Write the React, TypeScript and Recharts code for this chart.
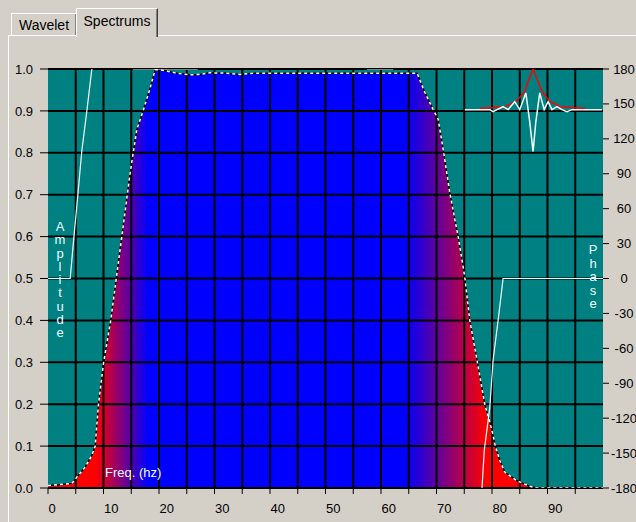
import React from 'react';
import { ComposedChart, Area, Line, XAxis, YAxis, CartesianGrid, ReferenceLine } from 'recharts';

// axis ticks
const freqTicks = [0, 5, 10, 15, 20, 25, 30, 35, 40, 45, 50, 55, 60, 65, 70, 75, 80, 85, 90, 95];
const gridFreqs = [5, 10, 15, 20, 25, 30, 35, 40, 45, 50, 55, 60, 65, 70, 75, 80, 85, 90, 95];
const ampTicks = [0, 0.1, 0.2, 0.3, 0.4, 0.5, 0.6, 0.7, 0.8, 0.9, 1.0];
const phaseTicks = [-180, -150, -120, -90, -60, -30, 0, 30, 60, 90, 120, 150, 180];

// amplitude spectrum
const ampFreq = [
  0, 2, 4.3, 5.2, 6.7, 7.9, 8.5, 9.1, 10, 11.3, 12.3, 13.3, 14.8, 16, 17.2, 18.3, 19.3,
  20.2, 21.4, 23.2, 25.6, 27.4, 29.2, 32.2, 34.6, 37, 45, 55, 66.5, 67.9, 69.4, 70.3,
  71.3, 72.4, 73.9, 75.1, 76, 77.3, 78.7, 80, 80.6, 81.4, 82.3, 84.4, 86.8, 88, 100,
];
const ampValue = [
  0.006, 0.008, 0.011, 0.026, 0.05, 0.078, 0.1, 0.2, 0.298, 0.4, 0.5, 0.6, 0.752, 0.855, 0.903, 0.95, 0.998,
  0.998, 0.995, 0.99, 0.986, 0.987, 0.991, 0.99, 0.987, 0.99, 0.99, 0.99, 0.99, 0.944, 0.903, 0.88,
  0.8, 0.704, 0.6, 0.503, 0.4, 0.305, 0.2, 0.137, 0.1, 0.066, 0.038, 0.018, 0.004, 0, 0,
];

// phase spectrum in degrees (null = not drawn)
const phaseFreq = [0, 4, 4.5, 5.4, 6.1, 7, 7.9, 8, 15.3, 27, 27.1, 57.5, 62.2, 62.3, 78.2, 78.6, 79.6, 80.2, 81.1, 81.8, 82, 100];
const phaseDeg = [0, 0, 27, 73, 110, 144, 180, null, 180, 180, null, 180, 180, null, -180, -148, -111, -70, -36, -8, 0, 0];

// wavelet inset, drawn in the amplitude frame
const waveFreq = [75.1, 79.6, 80.2, 80.9, 82, 82.9, 84.1, 85, 86.1, 86.8, 87.4, 87.9, 88.6, 89.4, 90.1, 90.8, 91.7, 92.6, 93.5, 94.4, 99.8];
const waveValue = [0.903, 0.903, 0.898, 0.903, 0.91, 0.903, 0.922, 0.903, 0.943, 0.874, 0.803, 0.874, 0.943, 0.903, 0.922, 0.903, 0.91, 0.903, 0.898, 0.903, 0.903];
const envFreq = [77.8, 82.3, 84.3, 85.9, 86.5, 87.4, 88.3, 89, 90.5, 92.4, 96.8];
const envValue = [0.906, 0.91, 0.922, 0.946, 0.97, 1.0, 0.97, 0.946, 0.922, 0.91, 0.906];

const ampData = ampFreq.map((f, i) => ({ f, amp: ampValue[i] }));
const phaseData = phaseFreq.map((f, i) => ({ f, phase: phaseDeg[i] }));
const waveData = waveFreq.map((f, i) => ({ f, wave: waveValue[i] }));
const envData = envFreq.map((f, i) => ({ f, env: envValue[i] }));

const GRAY = '#D4D0C8';
const TEAL = '#008080';
const FONT = '"Liberation Sans", Arial, sans-serif';

function FreqTick(props: any) {
  const { x, y, payload } = props;
  if (payload.value % 10 !== 0) return <g />;
  return (
    <text x={x + 0.5} y={y} dy={17} textAnchor="start" fontSize={13} fontFamily={FONT} fill="#000">
      {payload.value}
    </text>
  );
}

function PhaseTick(props: any) {
  const { x, y, payload } = props;
  return (
    <text x={x} y={y} dy={4.5} textAnchor="middle" fontSize={13} fontFamily={FONT} fill="#000">
      {payload.value}
    </text>
  );
}

function Stacked({ text, left, top, lh }: { text: string; left: number; top: number; lh: number }) {
  return (
    <div
      style={{
        position: 'absolute', left, top, width: 14, textAlign: 'center', color: '#F0FFFF',
        fontFamily: FONT, fontSize: 13, lineHeight: `${lh}px`, pointerEvents: 'none',
      }}
    >
      {text.split('').map((c, i) => (
        <div key={i}>{c}</div>
      ))}
    </div>
  );
}

export default function App() {
  return (
    <div style={{ position: 'fixed', left: 0, top: 0, width: 636, height: 522, overflow: 'hidden', background: GRAY, fontFamily: FONT }}>
      {/* tab page frame */}
      <div style={{ position: 'absolute', left: 8, top: 35, width: 700, height: 600, borderTop: '1px solid #fff', borderLeft: '1px solid #fff' }} />
      <div
        style={{
          position: 'absolute', left: 11, top: 13, width: 64, height: 21, background: GRAY,
          borderTop: '1px solid #fff', borderLeft: '1px solid #fff', borderRight: '1px solid #404040',
          boxShadow: 'inset -1px 0 0 #808080', fontSize: 14, textAlign: 'center', lineHeight: '22px',
        }}
      >
        Wavelet
      </div>
      <div
        style={{
          position: 'absolute', left: 76, top: 8, width: 80, height: 28, background: GRAY,
          borderTop: '1px solid #fff', borderLeft: '1px solid #fff', borderRight: '1px solid #404040',
          boxShadow: 'inset -1px 0 0 #808080', fontSize: 14, textAlign: 'center', lineHeight: '24px',
        }}
      >
        Spectrums
      </div>

      <div style={{ position: 'absolute', left: 0, top: 0 }}>
        <ComposedChart width={636} height={522} margin={{ top: 69, right: 0, bottom: 0, left: 8 }}>
          <defs>
            <linearGradient id="ampFill" x1="0" y1="0" x2="1" y2="0">
              <stop offset="0.085" stopColor="#FF0000" />
              <stop offset="0.18" stopColor="#0000FF" />
              <stop offset="0.645" stopColor="#0000FF" />
              <stop offset="0.79" stopColor="#FF0000" />
            </linearGradient>
          </defs>
          <CartesianGrid yAxisId="amp" fill={TEAL} fillOpacity={1} horizontal={false} vertical={false} stroke="none" />
          <XAxis
            dataKey="f" type="number" domain={[0, 100]} ticks={freqTicks} interval={0} allowDataOverflow
            height={34} tickSize={6} tick={<FreqTick />} axisLine={{ stroke: '#000' }} tickLine={{ stroke: '#000' }}
          />
          <YAxis
            yAxisId="amp" orientation="left" type="number" domain={[0, 1]} ticks={ampTicks} interval={0} allowDataOverflow
            width={40} tickSize={8} tickMargin={7} axisLine={false} tickLine={{ stroke: '#000' }}
            tick={{ fill: '#000', fontSize: 13, fontFamily: FONT }} tickFormatter={(v: number) => v.toFixed(1)}
          />
          <YAxis
            yAxisId="phase" orientation="right" type="number" domain={[-180, 180]} ticks={phaseTicks} interval={0} allowDataOverflow
            width={33} tickSize={6} tickMargin={15} axisLine={false} tickLine={{ stroke: '#000' }} tick={<PhaseTick />}
          />
          <Area
            yAxisId="amp" data={ampData} dataKey="amp" type="linear" fill="url(#ampFill)" fillOpacity={1}
            stroke="none" isAnimationActive={false}
          />
          {/* grid drawn over the filled spectrum */}
          {gridFreqs.map((f) => (
            <ReferenceLine key={`gx${f}`} yAxisId="amp" x={f} stroke="#000" strokeWidth={2} />
          ))}
          {ampTicks.map((v) => (
            <ReferenceLine key={`gy${v}`} yAxisId="amp" y={v} stroke="#000" strokeWidth={2} />
          ))}
          <Line yAxisId="amp" data={ampData} dataKey="amp" type="linear" stroke="#000" strokeWidth={1.5} dot={false} isAnimationActive={false} zIndex={1000} />
          <Line yAxisId="amp" data={ampData} dataKey="amp" type="linear" stroke="#fff" strokeWidth={1.5} strokeDasharray="3 3" dot={false} isAnimationActive={false} zIndex={1001} />
          <Line yAxisId="phase" data={phaseData} dataKey="phase" type="linear" stroke="#F0FFFF" strokeWidth={1.2} dot={false} connectNulls={false} isAnimationActive={false} zIndex={1002} />
          <Line yAxisId="amp" data={envData} dataKey="env" type="linear" stroke="#FF0000" strokeWidth={1.5} dot={false} isAnimationActive={false} zIndex={1003} />
          <Line yAxisId="amp" data={waveData} dataKey="wave" type="linear" stroke="#F0FFFF" strokeWidth={1.5} dot={false} isAnimationActive={false} zIndex={1004} />
        </ComposedChart>
      </div>

      <Stacked text="Amplitude" left={53} top={220} lh={13.3} />
      <Stacked text="Phase" left={586} top={243} lh={13.5} />
      <div style={{ position: 'absolute', left: 105, top: 465, color: '#F0FFFF', fontSize: 13, pointerEvents: 'none' }}>Freq. (hz)</div>
    </div>
  );
}
